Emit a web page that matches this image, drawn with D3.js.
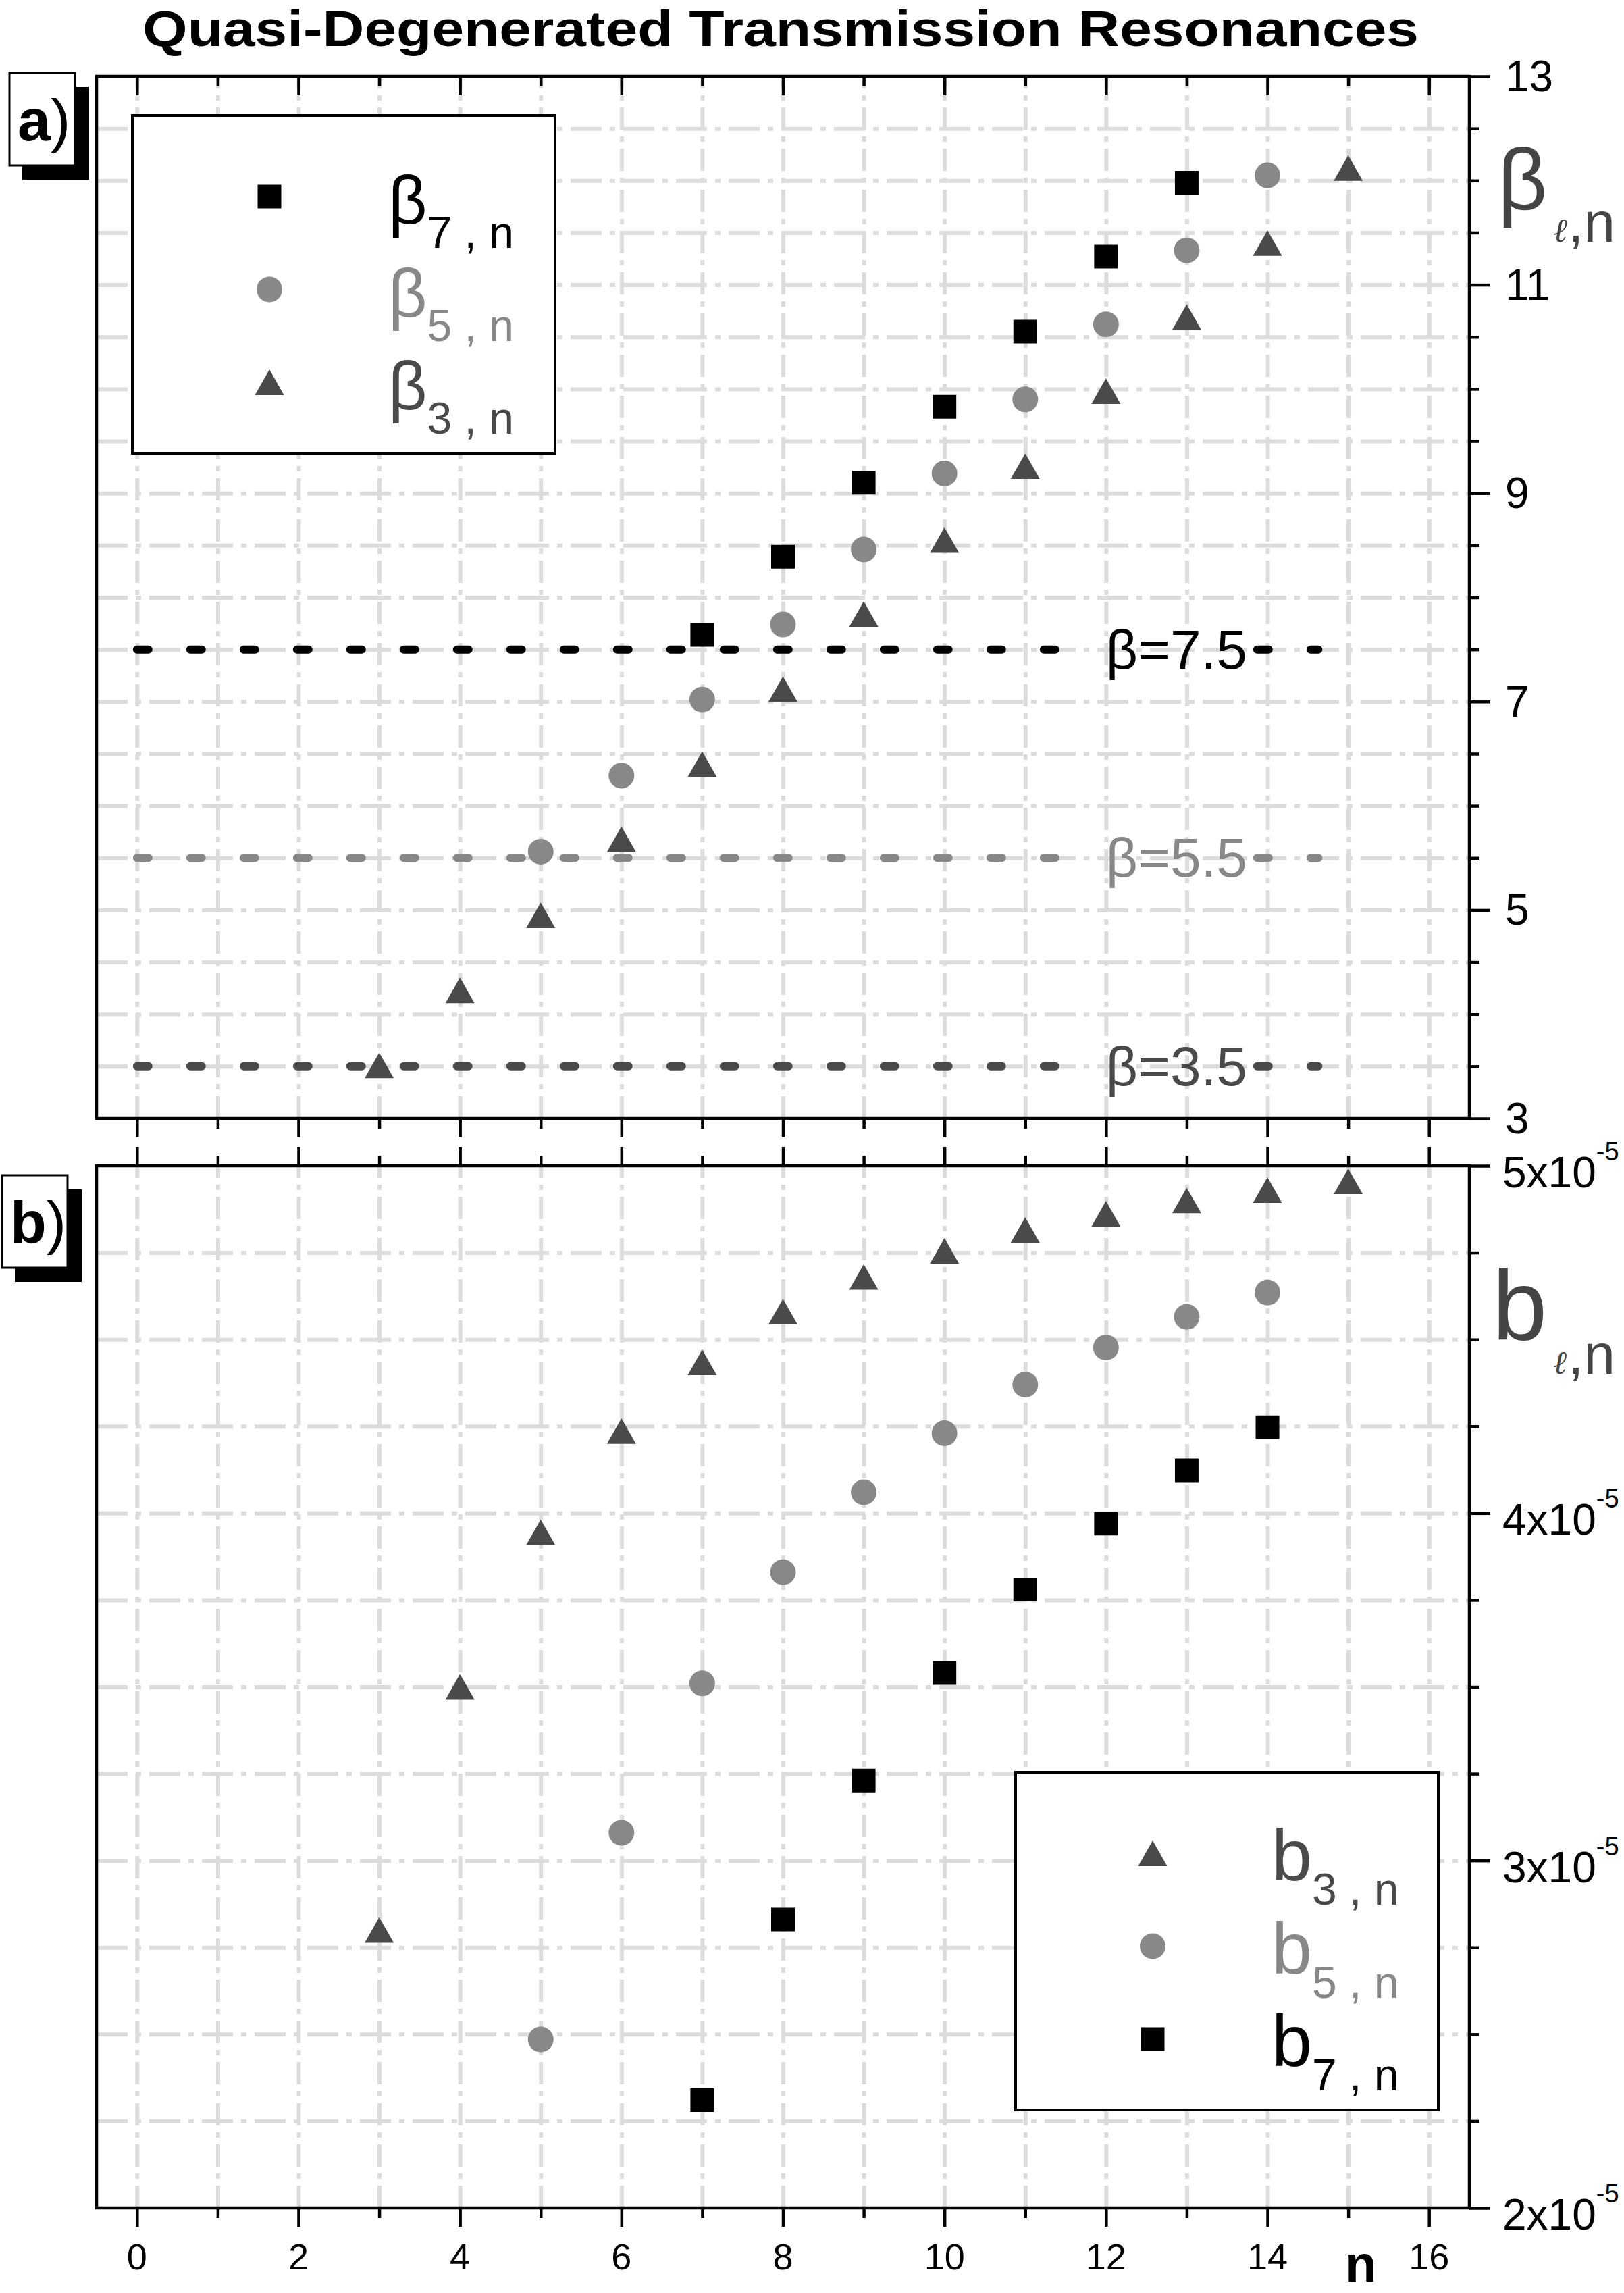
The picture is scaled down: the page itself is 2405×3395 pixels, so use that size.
<!DOCTYPE html>
<html>
<head>
<meta charset="utf-8">
<script src="https://cdn.jsdelivr.net/npm/d3@7"></script>
<style>
  html, body { margin: 0; padding: 0; background: #fff; }
  svg { display: block; font-family: "Liberation Sans", Arial, sans-serif; }
</style>
</head>
<body>
<div id="chart"></div>
<script>
// ---- data ----
const nTicks = [0, 2, 4, 6, 8, 10, 12, 14, 16];
const betaTicks = [3, 5, 7, 9, 11, 13];
const bTicks = [2e-5, 3e-5, 4e-5, 5e-5];
const refLevels = [7.5, 5.5, 3.5];

// panel a) beta_{l,n}
const nBeta7 = [7, 8, 9, 10, 11, 12, 13];
const beta7 = [7.64, 8.39, 9.10, 9.83, 10.55, 11.27, 11.98];
const nBeta5 = [5, 6, 7, 8, 9, 10, 11, 12, 13, 14];
const beta5 = [5.56, 6.29, 7.02, 7.74, 8.46, 9.19, 9.90, 10.62, 11.33, 12.05];
const nBeta3 = [3, 4, 5, 6, 7, 8, 9, 10, 11, 12, 13, 14, 15];
const beta3 = [3.51, 4.23, 4.95, 5.68, 6.40, 7.12, 7.84, 8.55, 9.26, 9.98, 10.69, 11.40, 12.12];

// panel b) b_{l,n}
const nB3 = [3, 4, 5, 6, 7, 8, 9, 10, 11, 12, 13, 14, 15];
const b3 = [2.80e-5, 3.50e-5, 3.945e-5, 4.236e-5, 4.434e-5, 4.58e-5, 4.68e-5, 4.755e-5, 4.815e-5, 4.862e-5, 4.90e-5, 4.93e-5, 4.955e-5];
const nB5 = [5, 6, 7, 8, 9, 10, 11, 12, 13, 14];
const b5 = [2.485e-5, 3.08e-5, 3.51e-5, 3.83e-5, 4.06e-5, 4.23e-5, 4.37e-5, 4.477e-5, 4.565e-5, 4.635e-5];
const nB7 = [7, 8, 9, 10, 11, 12, 13, 14];
const b7 = [2.31e-5, 2.83e-5, 3.23e-5, 3.54e-5, 3.78e-5, 3.97e-5, 4.123e-5, 4.247e-5];

// ---- layout ----
const W = 2405, H = 3395;
const left = 143, right = 2176;
const aTop = 113, aBot = 1656, bTop = 1726, bBot = 3269;

const col3 = "#4a4a4a", col5 = "#888888", col7 = "#000000";
const gridColor = "#dcdcdc";

const svg = d3.select("#chart").append("svg")
  .attr("width", W)
  .attr("height", H);

const x = d3.scaleLinear().domain([-0.5, 16.5]).range([left, right]);
const yA = d3.scaleLinear().domain([3, 13]).range([aBot, aTop]);
const yB = d3.scaleLinear().domain([2e-5, 5e-5]).range([bBot, bTop]);

// triangle centred on its bounding box (Origin style)
const triangleBox = {
  draw(ctx, size) {
    const w = Math.sqrt(size), h = w * 0.88;
    ctx.moveTo(0, -h / 2);
    ctx.lineTo(w / 2, h / 2);
    ctx.lineTo(-w / 2, h / 2);
    ctx.closePath();
  }
};
const symTri = d3.symbol().type(triangleBox).size(43 * 43);
const symCirc = d3.symbol().type(d3.symbolCircle).size(Math.PI * 19 * 19);
const symSq = d3.symbol().type(d3.symbolSquare).size(35 * 35);

// ---- grid ----
function drawGrid(yScale, yVals, top, bot) {
  const g = svg.append("g").attr("class", "grid");
  g.append("g")
    .attr("transform", `translate(0,${bot})`)
    .call(d3.axisBottom(x).tickValues(d3.range(0, 17)).tickSize(-(bot - top)).tickFormat(""))
    .call(s => s.select(".domain").remove())
    .selectAll("line")
    .attr("stroke", gridColor)
    .attr("stroke-width", 6)
    .attr("stroke-dasharray", "33 10 8 10");
  g.append("g")
    .attr("transform", `translate(${left},0)`)
    .call(d3.axisLeft(yScale).tickValues(yVals).tickSize(-(right - left)).tickFormat(""))
    .call(s => s.select(".domain").remove())
    .selectAll("line")
    .attr("stroke", gridColor)
    .attr("stroke-width", 6)
    .attr("stroke-dasharray", "46 12 8 12");
}
drawGrid(yA, d3.range(3.5, 13, 0.5), aTop, aBot);
drawGrid(yB, d3.range(1, 12).map(i => 2e-5 + i * 0.25e-5), bTop, bBot);

// ---- reference lines beta = 7.5 / 5.5 / 3.5 ----
const refColors = [col7, col5, col3];
const defs = svg.append("defs");
const line = d3.line().x(d => x(d[0])).y(d => d[1]);
const refG = svg.append("g");
const refLabG = svg.append("g");

refLevels.forEach((v, i) => {
  const label = refLabG.append("text")
    .attr("x", x(12))
    .attr("y", yA(v) + 28)
    .attr("font-size", 82)
    .attr("fill", refColors[i])
    .text("\u03B2=" + v.toFixed(1));
  const bb = label.node().getBBox();
  const mask = defs.append("mask").attr("id", "gap" + i)
    .attr("maskUnits", "userSpaceOnUse")
    .attr("x", 0).attr("y", 0).attr("width", W).attr("height", H);
  mask.append("rect").attr("x", 0).attr("y", 0).attr("width", W).attr("height", H).attr("fill", "#fff");
  mask.append("rect").attr("x", bb.x - 60).attr("y", 0).attr("width", bb.width + 56).attr("height", H).attr("fill", "#000");
  refG.append("path")
    .attr("d", line([[0, yA(v)], [14.63, yA(v)]]))
    .attr("fill", "none")
    .attr("stroke", refColors[i])
    .attr("stroke-width", 12)
    .attr("stroke-linecap", "round")
    .attr("stroke-dasharray", "17 62")
    .attr("mask", `url(#gap${i})`);
});

// ---- frames and axes ----
[[aTop, aBot], [bTop, bBot]].forEach(([t, b]) => {
  svg.append("rect")
    .attr("x", left).attr("y", t)
    .attr("width", right - left).attr("height", b - t)
    .attr("fill", "none").attr("stroke", "#000").attr("stroke-width", 4.5);
});

function ticks(axisFn, scale, vals, size, tx, ty) {
  svg.append("g")
    .attr("transform", `translate(${tx},${ty})`)
    .call(axisFn(scale).tickValues(vals).tickSize(size).tickFormat(""))
    .call(s => s.select(".domain").remove())
    .selectAll("line")
    .attr("stroke", "#000")
    .attr("stroke-width", 4.5);
}
const nMinor = d3.range(1, 16, 2);
// panel a: top ticks inward, bottom outward
ticks(d3.axisBottom, x, nTicks, 28, 0, aTop);
ticks(d3.axisBottom, x, nMinor, 15, 0, aTop);
ticks(d3.axisBottom, x, nTicks, 28, 0, aBot);
ticks(d3.axisBottom, x, nMinor, 15, 0, aBot);
// panel b: top outward, bottom outward
ticks(d3.axisTop, x, nTicks, 28, 0, bTop);
ticks(d3.axisTop, x, nMinor, 15, 0, bTop);
ticks(d3.axisBottom, x, nTicks, 28, 0, bBot);
ticks(d3.axisBottom, x, nMinor, 15, 0, bBot);
// right axes
ticks(d3.axisRight, yA, betaTicks, 31, right, 0);
ticks(d3.axisRight, yA, d3.range(3.5, 13, 0.5).filter(v => !betaTicks.includes(v)), 15, right, 0);
ticks(d3.axisRight, yB, bTicks, 31, right, 0);
ticks(d3.axisRight, yB, d3.range(1, 12).filter(i => i % 4 !== 0).map(i => 2e-5 + i * 0.25e-5), 15, right, 0);

// bottom tick labels
svg.append("g").selectAll("text")
  .data(nTicks)
  .enter().append("text")
  .attr("x", d => x(d))
  .attr("y", bBot + 91)
  .attr("text-anchor", "middle")
  .attr("font-size", 54)
  .text(d => d);

// right tick labels panel a
svg.append("g").selectAll("text")
  .data(betaTicks)
  .enter().append("text")
  .attr("x", 2229)
  .attr("y", d => yA(d) + 22)
  .attr("font-size", 64)
  .text(d => d);

// right tick labels panel b (m x10^-5)
const bLab = svg.append("g").selectAll("text")
  .data(bTicks)
  .enter().append("text")
  .attr("x", 2225)
  .attr("y", d => yB(d) + 32)
  .attr("font-size", 64);
bLab.append("tspan").text(d => Math.round(d * 1e5) + "x10");
bLab.append("tspan").attr("dy", -40).attr("font-size", 38).text("-5");

// ---- markers ----
function markers(ns, vals, yScale, sym, color) {
  svg.append("g").selectAll("path")
    .data(ns.map((n, i) => [n, vals[i]]))
    .enter().append("path")
    .attr("d", sym)
    .attr("transform", d => `translate(${x(d[0])},${yScale(d[1])})`)
    .attr("fill", color);
}
markers(nBeta7, beta7, yA, symSq, col7);
markers(nBeta5, beta5, yA, symCirc, col5);
markers(nBeta3, beta3, yA, symTri, col3);
markers(nB3, b3, yB, symTri, col3);
markers(nB5, b5, yB, symCirc, col5);
markers(nB7, b7, yB, symSq, col7);

// ---- legends ----
function legend(bx, by, items, mainChar, mainSize) {
  const g = svg.append("g").attr("transform", `translate(${bx},${by})`);
  g.append("rect")
    .attr("width", 626).attr("height", 500)
    .attr("fill", "#fff").attr("stroke", "#000").attr("stroke-width", 4);
  items.forEach((it, i) => {
    const cy = 120 + i * 137.5;
    g.append("path")
      .attr("d", it.sym)
      .attr("transform", `translate(203,${cy})`)
      .attr("fill", it.color);
    const t = g.append("text")
      .attr("x", 379)
      .attr("y", cy + 40)
      .attr("font-size", mainSize)
      .attr("fill", it.color)
      .text(mainChar);
    t.append("tspan").attr("dy", 36).attr("font-size", 66).text(it.sub + " , n");
  });
}
legend(196, 171, [
  { sym: symSq, color: col7, sub: "7" },
  { sym: symCirc, color: col5, sub: "5" },
  { sym: symTri, color: col3, sub: "3" }
], "\u03B2", 100);
legend(1504, 2624, [
  { sym: symTri, color: col3, sub: "3" },
  { sym: symCirc, color: col5, sub: "5" },
  { sym: symSq, color: col7, sub: "7" }
], "b", 108);

// ---- axis titles ----
function sideTitle(mainChar, mainSize, mx, my, subY, ell) {
  const t = svg.append("text").attr("fill", "#444");
  t.append("tspan").attr("x", mx).attr("y", my).attr("font-size", mainSize).text(mainChar);
  t.append("tspan").attr("x", 2300).attr("y", subY)
    .attr("font-size", ell).attr("font-style", "italic")
    .attr("font-family", "DejaVu Serif, serif").text("\u2113");
  t.append("tspan").attr("x", 2322).attr("y", subY).attr("font-size", 84).text(",n");
}
sideTitle("\u03B2", 128, 2218, 310, 358, 50);
sideTitle("b", 146, 2210, 1983, 2034, 48);

svg.append("text")
  .attr("x", 1992).attr("y", 3378)
  .attr("font-size", 76).attr("font-weight", "bold")
  .text("n");

svg.append("text")
  .attr("x", 1156).attr("y", 68)
  .attr("text-anchor", "middle")
  .attr("font-size", 74).attr("font-weight", "bold")
  .attr("textLength", 1890).attr("lengthAdjust", "spacingAndGlyphs")
  .text("Quasi-Degenerated Transmission Resonances");

// ---- panel tags a) b) ----
function tag(tx, ty, letter) {
  svg.append("rect").attr("x", tx + 19).attr("y", ty + 21).attr("width", 99).attr("height", 137).attr("fill", "#000");
  svg.append("rect").attr("x", tx).attr("y", ty).attr("width", 97).attr("height", 137)
    .attr("fill", "#fff").attr("stroke", "#000").attr("stroke-width", 3);
  const t = svg.append("text").attr("x", tx + 12).attr("y", ty + 100).attr("font-size", 88);
  t.append("tspan").attr("font-weight", "bold").text(letter);
  t.append("tspan").text(")");
}
tag(14, 108, "a");
tag(3, 1740, "b");
</script>
</body>
</html>
